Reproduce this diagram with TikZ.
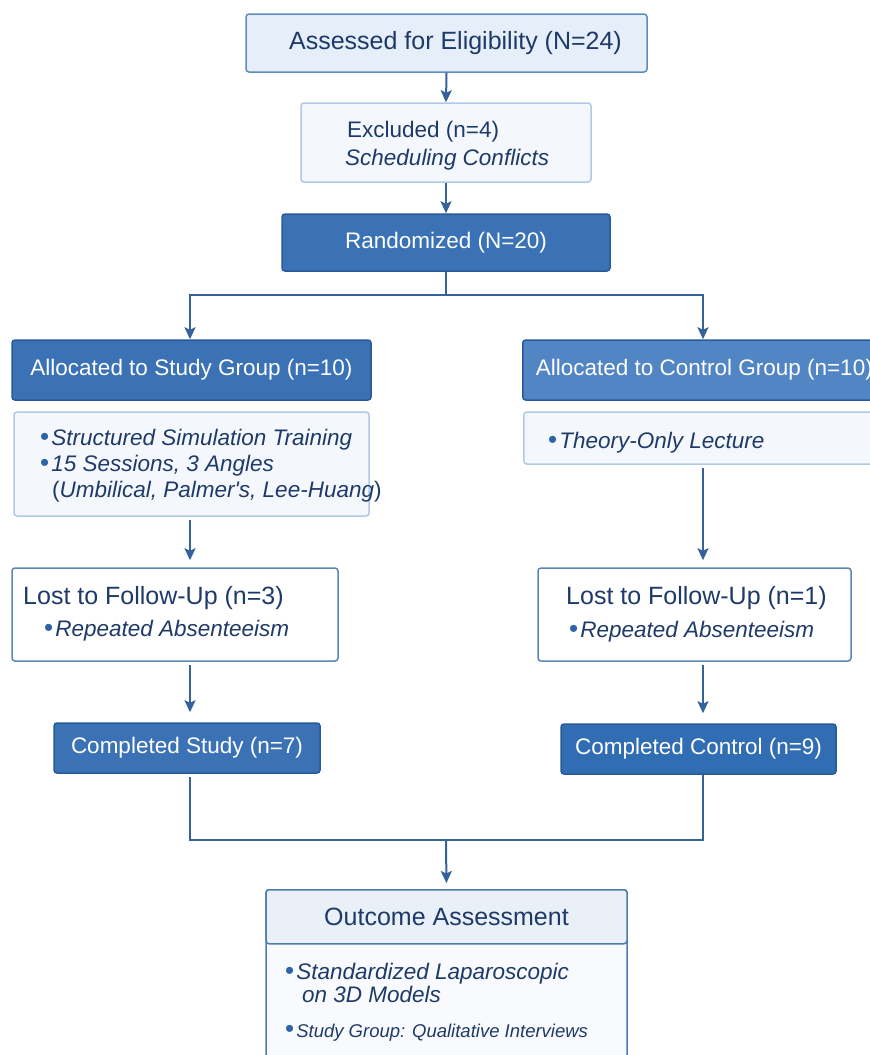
\documentclass[tikz,border=0pt]{standalone}
\usepackage{fontspec}
\setmainfont{Liberation Sans}
\usetikzlibrary{arrows.meta}
\definecolor{navy}{HTML}{1E3A68}
\definecolor{linecol}{HTML}{35629A}
\definecolor{darkfill}{HTML}{3A72B5}
\definecolor{darkedge}{HTML}{285A96}
\definecolor{midfill}{HTML}{5185C3}
\definecolor{compfill}{HTML}{306DB3}
\definecolor{palefill}{HTML}{E6EFF9}
\definecolor{paleedge}{HTML}{5E8CC0}
\definecolor{ghostfill}{HTML}{F4F8FC}
\definecolor{ghostedge}{HTML}{B0CAE6}
\definecolor{whiteedge}{HTML}{5A86BA}
\definecolor{headfill}{HTML}{E9F0F8}
\definecolor{headedge}{HTML}{4D7BB0}
\definecolor{bodyfill}{HTML}{F8FAFD}
\definecolor{dotcol}{HTML}{2D64A8}
\tikzstyle{box}=[rectangle, rounded corners=3pt, line width=1.5pt, inner sep=0pt]
\tikzstyle{darkbox}=[box, draw=darkedge, fill=darkfill, text=white, font=\fontsize{22.5}{27}\selectfont]
\tikzstyle{palebox}=[box, draw=paleedge, fill=palefill, text=navy, font=\fontsize{25}{30}\selectfont]
\tikzstyle{ghostbox}=[box, draw=ghostedge, fill=ghostfill]
\tikzstyle{whitebox}=[box, draw=whiteedge, fill=white]
\tikzstyle{headbox}=[box, draw=headedge, fill=headfill, text=navy, font=\fontsize{25}{30}\selectfont]
\tikzstyle{boxtext}=[inner sep=0pt, anchor=base west, text=navy, font=\fontsize{22.5}{27}\selectfont]
\tikzstyle{flow}=[draw=linecol, line width=2pt]
\tikzstyle{arr}=[flow, -{Stealth[length=12pt,width=11pt,inset=2.5pt]}]
\newcommand{\dotitem}[1]{{\color{dotcol}\fontsize{26}{26}\selectfont\textbullet}\kern2pt\textit{#1}}

\begin{document}
\begin{tikzpicture}[x=1pt, y=-1pt]
\useasboundingbox (0,0) rectangle (870,1055);
% screening
\node[palebox, minimum width=401pt, minimum height=58pt] (assess) at (446.5,43) {\hspace*{18pt}Assessed for Eligibility (N=24)};
\node[ghostbox, minimum width=290pt, minimum height=79pt] (excl) at (446,142.5) {};
\node[boxtext] (exclA) at (347,137) {Excluded (n=4)};
\node[boxtext] (exclB) at (345,165) {\textit{Scheduling Conflicts}};
\node[darkbox, minimum width=328pt, minimum height=57pt] (rand) at (446,242.5) {Randomized (N=20)};
\coordinate (split) at (446,295);
\coordinate (colS) at (190,295);
\coordinate (colC) at (703,295);
% allocation
\node[darkbox, minimum width=359pt, minimum height=60pt] (allocS) at (191.5,370) {Allocated to Study Group (n=10)};
\node[darkbox, fill=midfill, anchor=west, minimum height=60pt, inner xsep=13pt] (allocC) at (522,370) {Allocated to Control Group (n=10)};
\node[ghostbox, minimum width=355pt, minimum height=104pt] (intS) at (191.5,464) {};
\node[boxtext] (intSa) at (40,445) {\dotitem{Structured Simulation Training}};
\node[boxtext] (intSb) at (40,471) {\dotitem{15 Sessions, 3 Angles}};
\node[boxtext] (intSc) at (52,497) {(\textit{Umbilical, Palmer\textquotesingle s, Lee-Huang})};
\node[ghostbox, anchor=west, minimum width=367pt, minimum height=52pt] (intC) at (523,438) {};
\node[boxtext] (intCa) at (548,448) {\dotitem{Theory-Only Lecture}};
% follow-up
\node[whitebox, minimum width=326pt, minimum height=93pt] (lostS) at (175,614.5) {};
\node[boxtext, font=\fontsize{25}{30}\selectfont] (lostSa) at (23,604) {Lost to Follow-Up (n=3)};
\node[boxtext] (lostSb) at (44,636) {\dotitem{Repeated Absenteeism}};
\node[whitebox, minimum width=313pt, minimum height=93pt] (lostC) at (694.5,614.5) {};
\node[boxtext, font=\fontsize{25}{30}\selectfont] (lostCa) at (566,604) {Lost to Follow-Up (n=1)};
\node[boxtext] (lostCb) at (569,637) {\dotitem{Repeated Absenteeism}};
\node[darkbox, minimum width=266pt, minimum height=50pt] (compS) at (187,748) {Completed Study (n=7)};
\node[darkbox, fill=compfill, minimum width=275pt, minimum height=50pt] (compC) at (698.5,749) {Completed Control (n=9)};
\coordinate (joinS) at (190,840);
\coordinate (joinC) at (703,840);
\coordinate (join) at (446,840);
% outcome
\node[box, draw=headedge, fill=bodyfill, anchor=north, minimum width=361pt, minimum height=200pt] (outcome) at (446.5,889) {};
\node[headbox, anchor=north, minimum width=361pt, minimum height=54pt] (outhead) at (446.5,889) {Outcome Assessment};
\node[boxtext] (outA) at (285,979) {\dotitem{Standardized Laparoscopic}};
\node[boxtext] (outB) at (302,1002) {\textit{on 3D Models}};
\node[boxtext, font=\fontsize{18.5}{22}\selectfont] (outC) at (285,1037) {\dotitem{Study Group: Qualitative Interviews}};
% connectors
\draw[arr] (assess.south) -- (excl.north);
\draw[arr] (excl.south) -- (rand.north);
\draw[flow] (rand.south) -- (split);
\draw[flow, line cap=rect] (colS) -- (colC);
\draw[arr] (colS) -- (colS |- allocS.north);
\draw[arr] (colC) -- (colC |- allocC.north);
\draw[arr, shorten <=3pt, shorten >=7pt] (colS |- intS.south) -- (colS |- lostS.north);
\draw[arr, shorten <=3pt, shorten >=7pt] (colC |- intC.south) -- (colC |- lostC.north);
\draw[arr, shorten <=3pt, shorten >=10pt] (colS |- lostS.south) -- (colS |- compS.north);
\draw[arr, shorten <=3pt, shorten >=10pt] (colC |- lostC.south) -- (colC |- compC.north);
\draw[flow, shorten <=3pt] (colS |- compS.south) -- (joinS) -- (joinC) -- (colC |- compC.south);
\draw[arr, shorten >=6pt] (join) -- (outhead.north);
\end{tikzpicture}
\end{document}
